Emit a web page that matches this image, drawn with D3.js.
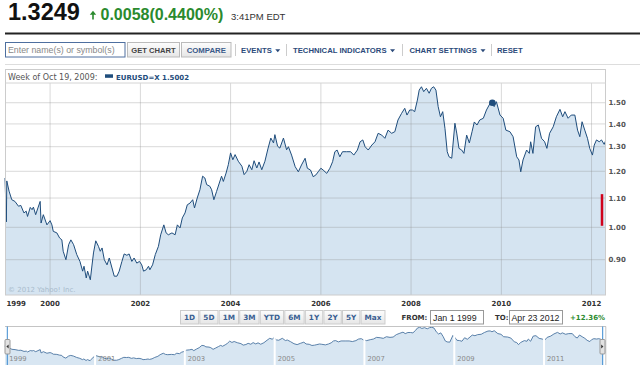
<!DOCTYPE html>
<html>
<head>
<meta charset="UTF-8">
<title>EURUSD=X</title>
<script src="https://d3js.org/d3.v7.min.js"></script>
<style>
  body { margin: 0; background: #fff; overflow: hidden; }
  svg { display: block; }
  .v { font-family: "DejaVu Sans", Verdana, sans-serif; }
  .a { font-family: "Liberation Sans", Arial, sans-serif; }
</style>
</head>
<body>
<svg width="640" height="365"></svg>
<script>
// weekly EUR/USD closes (decimal years)
const years = [
  1999.00,1999.03,1999.04,1999.09,1999.15,1999.22,1999.30,1999.35,1999.42,1999.47,1999.50,1999.56,1999.60,1999.63,1999.68,1999.73,1999.78,1999.80,1999.85,1999.93,
  2000.00,2000.04,2000.07,2000.15,2000.21,2000.26,2000.29,2000.35,2000.41,2000.46,2000.52,2000.59,2000.66,2000.72,2000.75,2000.80,2000.83,2000.89,2000.92,2000.96,
  2001.01,2001.07,2001.11,2001.15,2001.20,2001.26,2001.31,2001.37,2001.42,2001.48,2001.53,2001.59,2001.64,2001.70,2001.75,2001.81,2001.86,2001.92,2001.98,
  2002.03,2002.07,2002.13,2002.18,2002.21,2002.27,2002.33,2002.40,2002.45,2002.52,2002.57,2002.62,2002.70,2002.77,2002.82,2002.88,2002.93,2002.99,
  2003.04,2003.10,2003.16,2003.20,2003.26,2003.32,2003.38,2003.43,2003.47,2003.54,2003.58,2003.63,2003.69,2003.75,2003.80,2003.84,2003.90,2003.95,
  2004.00,2004.05,2004.10,2004.17,2004.25,2004.30,2004.36,2004.41,2004.47,2004.52,2004.58,2004.63,2004.69,2004.76,2004.83,2004.89,2004.95,2004.98,
  2005.04,2005.09,2005.17,2005.24,2005.28,2005.35,2005.43,2005.50,2005.57,2005.65,2005.70,2005.77,2005.83,2005.89,2005.94,
  2006.00,2006.05,2006.13,2006.20,2006.26,2006.31,2006.36,2006.42,2006.48,2006.57,2006.66,2006.73,2006.81,2006.87,2006.93,2006.98,
  2007.05,2007.13,2007.20,2007.27,2007.35,2007.42,2007.49,2007.57,2007.64,2007.71,2007.79,2007.86,2007.91,2007.97,
  2008.03,2008.08,2008.14,2008.18,2008.23,2008.28,2008.34,2008.40,2008.45,2008.50,2008.55,2008.60,2008.65,2008.70,2008.75,2008.80,2008.84,2008.90,2008.97,
  2009.01,2009.06,2009.12,2009.17,2009.23,2009.29,2009.35,2009.40,2009.46,2009.52,2009.60,2009.67,2009.75,2009.80,2009.84,2009.89,2009.97,
  2010.04,2010.10,2010.19,2010.26,2010.34,2010.39,2010.43,2010.48,2010.56,2010.62,2010.65,2010.70,2010.76,2010.82,2010.89,2010.96,
  2011.01,2011.07,2011.15,2011.22,2011.30,2011.36,2011.41,2011.48,2011.55,2011.63,2011.69,2011.74,2011.79,2011.85,2011.91,2011.96,
  2012.02,2012.06,2012.11,2012.17,2012.22,2012.28,2012.31
];
const closes = [
  1.174,1.018,1.163,1.125,1.094,1.088,1.071,1.074,1.048,1.054,1.036,1.067,1.059,1.068,1.042,1.065,1.088,1.014,1.042,1.008,
  1.022,1.008,0.987,0.982,0.966,0.960,0.925,0.900,0.945,0.960,0.945,0.915,0.895,0.867,0.881,0.848,0.867,0.843,0.876,0.920,
  0.957,0.940,0.925,0.935,0.900,0.885,0.905,0.876,0.853,0.853,0.867,0.895,0.917,0.913,0.917,0.895,0.905,0.890,0.895,
  0.885,0.867,0.871,0.881,0.871,0.885,0.915,0.940,0.976,1.008,0.982,0.976,0.982,0.976,1.008,0.998,1.031,1.048,
  1.076,1.082,1.094,1.065,1.100,1.130,1.181,1.174,1.149,1.143,1.130,1.094,1.124,1.155,1.181,1.161,1.193,1.226,
  1.274,1.246,1.267,1.240,1.220,1.187,1.200,1.226,1.206,1.242,1.213,1.237,1.206,1.240,1.294,1.337,1.316,1.352,
  1.302,1.294,1.337,1.287,1.300,1.265,1.218,1.198,1.225,1.252,1.212,1.205,1.179,1.186,1.198,
  1.212,1.205,1.192,1.212,1.238,1.279,1.286,1.258,1.279,1.279,1.279,1.265,1.286,1.321,1.329,1.300,
  1.286,1.307,1.321,1.358,1.350,1.336,1.372,1.358,1.365,1.418,1.449,1.473,1.441,1.465,
  1.465,1.457,1.513,1.563,1.580,1.555,1.572,1.547,1.572,1.580,1.563,1.481,1.433,1.457,1.380,1.279,1.258,1.252,1.403,
  1.359,1.293,1.286,1.272,1.350,1.316,1.365,1.409,1.395,1.418,1.426,1.465,1.497,1.5002,1.481,1.505,1.441,
  1.426,1.372,1.365,1.343,1.258,1.245,1.198,1.245,1.286,1.272,1.321,1.272,1.387,1.395,1.336,1.321,
  1.293,1.358,1.387,1.433,1.468,1.433,1.457,1.426,1.441,1.441,1.372,1.343,1.410,1.372,1.336,1.293,
  1.265,1.307,1.329,1.321,1.329,1.310,1.3249
];
const yTicks = [0.90, 1.00, 1.10, 1.20, 1.30, 1.40, 1.50];
const gridYears = [2000, 2002, 2004, 2006, 2008, 2010, 2012];
const xLabelYears = [1999, 2000, 2002, 2004, 2006, 2008, 2010, 2012];
const navYears = [1999, 2001, 2003, 2005, 2007, 2009, 2011];
const rangeButtons = ["1D", "5D", "1M", "3M", "YTD", "6M", "1Y", "2Y", "5Y", "Max"];
const menus = ["EVENTS", "TECHNICAL INDICATORS", "CHART SETTINGS", "RESET"];
const quote = { last: "1.3249", change: "0.0058", pct: "(0.4400%)", time: "3:41PM EDT", total: "+12.36%" };
const hover = { year: 2009.80, value: 1.5002, label: "Week of Oct 19, 2009:", symbol: "EURUSD=X" };
const redBar = [1.005, 1.114];
const period = { from: "Jan 1 1999", to: "Apr 23 2012" };

const toDate = yv => {
  const yr = Math.floor(yv), s = new Date(yr, 0, 1), e = new Date(yr + 1, 0, 1);
  return new Date(+s + (yv - yr) * (e - s));
};
const series = years.map((yv, i) => ({ date: toDate(yv), value: closes[i] }));

const svg = d3.select("svg");
const blue = "#1f4d7c", fillBlue = "#d5e4f1", green = "#2a8a2e";

// ---- header quote
svg.append("text").attr("class", "a").attr("x", 8).attr("y", 19.5)
  .attr("font-size", 23.5).attr("font-weight", "bold").attr("fill", "#111").text(quote.last);
svg.append("path").attr("fill", green)
  .attr("d", "M89.8,14.8 L93,10.8 L96.2,14.8 Z M92.2,14.6 h1.6 v4.8 h-1.6 Z");
svg.append("text").attr("class", "a").attr("x", 100.5).attr("y", 19.5)
  .attr("font-size", 16).attr("font-weight", "bold").attr("fill", green).text(quote.change + quote.pct);
svg.append("text").attr("class", "a").attr("x", 231).attr("y", 19.5)
  .attr("font-size", 9.5).attr("fill", "#333").text(quote.time);
svg.append("line").attr("x1", 5).attr("x2", 640).attr("y1", 33.5).attr("y2", 33.5)
  .attr("stroke", "#222").attr("stroke-width", 2);

// ---- toolbar
const defs = svg.append("defs");
const grad = defs.append("linearGradient").attr("id", "btn").attr("x1", 0).attr("x2", 0).attr("y1", 0).attr("y2", 1);
grad.append("stop").attr("offset", "0%").attr("stop-color", "#fdfdfd");
grad.append("stop").attr("offset", "100%").attr("stop-color", "#e6e6e6");

svg.append("rect").attr("x", 5.5).attr("y", 42.5).attr("width", 119.5).attr("height", 14.5)
  .attr("fill", "#fff").attr("stroke", "#4e6f9f");
svg.append("text").attr("class", "a").attr("x", 8).attr("y", 53).attr("font-size", 8.8)
  .attr("fill", "#888").text("Enter name(s) or symbol(s)");
svg.append("rect").attr("x", 127.5).attr("y", 42.5).attr("width", 52).attr("height", 14.5)
  .attr("fill", "url(#btn)").attr("stroke", "#bbb");
svg.append("text").attr("class", "a").attr("x", 153.5).attr("y", 53).attr("text-anchor", "middle")
  .attr("font-size", 7.6).attr("font-weight", "bold").attr("fill", "#444").text("GET CHART");
svg.append("rect").attr("x", 181.5).attr("y", 42.5).attr("width", 49.5).attr("height", 14.5)
  .attr("fill", "url(#btn)").attr("stroke", "#bbb");
svg.append("text").attr("class", "a").attr("x", 206.3).attr("y", 53).attr("text-anchor", "middle")
  .attr("font-size", 7.8).attr("font-weight", "bold").attr("fill", "#3a5a8a").text("COMPARE");

[235.5, 286.5, 402.5, 491.5].forEach(sx => {
  svg.append("line").attr("x1", sx).attr("x2", sx).attr("y1", 44).attr("y2", 56).attr("stroke", "#ccc");
});
const menuX = [241, 293, 409.5, 497];
menus.forEach((m, i) => {
  const t = svg.append("text").attr("class", "a").attr("x", menuX[i]).attr("y", 53)
    .attr("font-size", 7.7).attr("font-weight", "bold").attr("fill", "#2b4a7a").text(m);
  if (i < 3) {
    const ex = menuX[i] + t.node().getComputedTextLength() + 3.5;
    svg.append("path").attr("fill", "#2b4a7a").attr("d", `M${ex},49.3 h5 l-2.5,3 Z`);
  }
});
svg.append("line").attr("x1", 5).attr("x2", 640).attr("y1", 64.5).attr("y2", 64.5).attr("stroke", "#ddd");

// ---- main chart
const x = d3.scaleTime().domain([toDate(1999), new Date(2012, 3, 23)]).range([5, 605.5]);
const y = d3.scaleLog().domain([0.8023, 1.6]).range([295, 82.9]);
const plotL = 5, plotR = 605.5, plotT = 83, plotB = 295;

svg.append("path").datum(series).attr("fill", fillBlue)
  .attr("d", d3.area().x(d => x(d.date)).y0(plotB).y1(d => y(d.value)));

const grid = svg.append("g").attr("stroke", "#8a8a8a").attr("stroke-opacity", 0.32);
grid.selectAll(".h").data(yTicks).join("line")
  .attr("x1", plotL).attr("x2", plotR).attr("y1", d => y(d)).attr("y2", d => y(d));
grid.selectAll(".vv").data(gridYears).join("line")
  .attr("x1", d => x(new Date(d, 0, 1))).attr("x2", d => x(new Date(d, 0, 1)))
  .attr("y1", plotT).attr("y2", plotB);

svg.append("path").datum(series).attr("fill", "none").attr("stroke", blue).attr("stroke-width", 1)
  .attr("stroke-linejoin", "round")
  .attr("d", d3.line().x(d => x(d.date)).y(d => y(d.value)));

// frame and legend row
svg.append("rect").attr("x", 5.5).attr("y", 69.5).attr("width", 600).attr("height", 225.5)
  .attr("fill", "none").attr("stroke", "#ccc");
svg.append("line").attr("x1", 5.5).attr("x2", 605.5).attr("y1", 83).attr("y2", 83).attr("stroke", "#d4d4d4");
svg.append("text").attr("class", "v").attr("x", 8).attr("y", 79.5).attr("font-size", 8)
  .attr("fill", "#555").text(hover.label);
svg.append("rect").attr("x", 105).attr("y", 74.3).attr("width", 8).attr("height", 3.5).attr("fill", blue);
svg.append("text").attr("class", "v").attr("x", 116).attr("y", 79.5).attr("font-size", 7)
  .attr("font-weight", "bold").attr("fill", blue).text(hover.symbol + " " + d3.format(".4f")(hover.value));

// hover dot
svg.append("circle").attr("cx", x(toDate(hover.year))).attr("cy", y(hover.value)).attr("r", 3.3).attr("fill", blue);

// watermark
svg.append("text").attr("class", "v").attr("x", 8).attr("y", 291.5).attr("font-size", 7)
  .attr("fill", "#a9bccd").text("© 2012 Yahoo! Inc.");

// red change bar
svg.append("line").attr("x1", 602).attr("x2", 602).attr("y1", y(redBar[1])).attr("y2", y(redBar[0]))
  .attr("stroke", "#d0021b").attr("stroke-width", 2.5);

// right axis labels
svg.append("g").selectAll("text").data(yTicks).join("text").attr("class", "v")
  .attr("x", 608.5).attr("y", d => y(d) + 2.6).attr("font-size", 7).attr("font-weight", "bold")
  .attr("fill", "#555").text(d3.format(".2f"));

// bottom axis labels
svg.append("g").selectAll("text").data(xLabelYears).join("text").attr("class", "v")
  .attr("x", d => d === 1999 ? 6.5 : x(new Date(d, 0, 1)))
  .attr("text-anchor", d => d === 1999 ? "start" : "middle")
  .attr("y", 305.5).attr("font-size", 7).attr("font-weight", "bold").attr("fill", "#333").text(d => d);

// ---- range buttons
let bx = 180;
rangeButtons.forEach(b => {
  const g = svg.append("g");
  const r = g.append("rect").attr("y", 310.5).attr("height", 13.5).attr("fill", "url(#btn)").attr("stroke", "#ccc");
  const t = g.append("text").attr("class", "v").attr("y", 320.2).attr("font-size", 7.3)
    .attr("font-weight", "bold").attr("fill", "#3a5f92").attr("text-anchor", "middle").text(b);
  const w = t.node().getComputedTextLength() + 7;
  r.attr("x", bx + 0.5).attr("width", w);
  t.attr("x", bx + 0.5 + w / 2);
  bx += w + 1.2;
});

svg.append("text").attr("class", "v").attr("x", 401.5).attr("y", 320.2).attr("font-size", 7)
  .attr("font-weight", "bold").attr("fill", "#333").text("FROM:");
svg.append("rect").attr("x", 430.5).attr("y", 310.5).attr("width", 53).attr("height", 13.5)
  .attr("fill", "#fff").attr("stroke", "#999");
svg.append("text").attr("class", "a").attr("x", 433).attr("y", 320.5).attr("font-size", 8.8)
  .attr("fill", "#222").text(period.from);
svg.append("text").attr("class", "v").attr("x", 495).attr("y", 320.2).attr("font-size", 7)
  .attr("font-weight", "bold").attr("fill", "#333").text("TO:");
svg.append("rect").attr("x", 509.5).attr("y", 310.5).attr("width", 53).attr("height", 13.5)
  .attr("fill", "#fff").attr("stroke", "#999");
svg.append("text").attr("class", "a").attr("x", 511.5).attr("y", 320.5).attr("font-size", 8.8)
  .attr("fill", "#222").text(period.to);
svg.append("text").attr("class", "v").attr("x", 570).attr("y", 320.2).attr("font-size", 7)
  .attr("font-weight", "bold").attr("fill", green).text(quote.total);

// ---- navigator
const xn = d3.scaleTime().domain(x.domain()).range([5.2, 602.8]);
const yn = d3.scaleLinear().domain(d3.extent(closes)).range([360.7, 327.3]);
svg.append("path").datum(series).attr("fill", "#d8e6f2")
  .attr("d", d3.area().x(d => xn(d.date)).y0(365).y1(d => yn(d.value)));
svg.append("path").datum(series).attr("fill", "none").attr("stroke", "#4a74a0").attr("stroke-width", 0.9)
  .attr("d", d3.line().x(d => xn(d.date)).y(d => yn(d.value)));
svg.append("g").selectAll("line").data(navYears.slice(1)).join("line")
  .attr("x1", d => xn(new Date(d, 0, 1))).attr("x2", d => xn(new Date(d, 0, 1)))
  .attr("y1", 327).attr("y2", 365).attr("stroke", "#fff").attr("stroke-width", 2);
svg.append("g").selectAll("text").data(navYears).join("text").attr("class", "v")
  .attr("x", d => d === 1999 ? 9.3 : xn(new Date(d, 0, 1)) + 3).attr("y", 360.5)
  .attr("font-size", 6.8).attr("fill", "#8a8a8a").text(d => d);
svg.append("line").attr("x1", 5).attr("x2", 606).attr("y1", 326.5).attr("y2", 326.5).attr("stroke", "#c4c4c4");
svg.append("line").attr("x1", 605.8).attr("x2", 605.8).attr("y1", 326.5).attr("y2", 365).attr("stroke", "#c4c4c4");

[[7.3, 5, "M8.6,344.5 l-2.2,2 l2.2,2 Z"], [602.7, 600, "M601.2,344.5 l2.2,2 l-2.2,2 Z"]].forEach(([lx, hx, arrow]) => {
  svg.append("line").attr("x1", lx).attr("x2", lx).attr("y1", 326.5).attr("y2", 365)
    .attr("stroke", "#3b8ad0").attr("stroke-width", 1);
  svg.append("rect").attr("x", hx).attr("y", 339.5).attr("width", 5).attr("height", 14.5).attr("rx", 1)
    .attr("fill", "#e2e2e2").attr("stroke", "#999");
  svg.append("path").attr("d", arrow).attr("fill", "#333");
});
</script>
</body>
</html>
